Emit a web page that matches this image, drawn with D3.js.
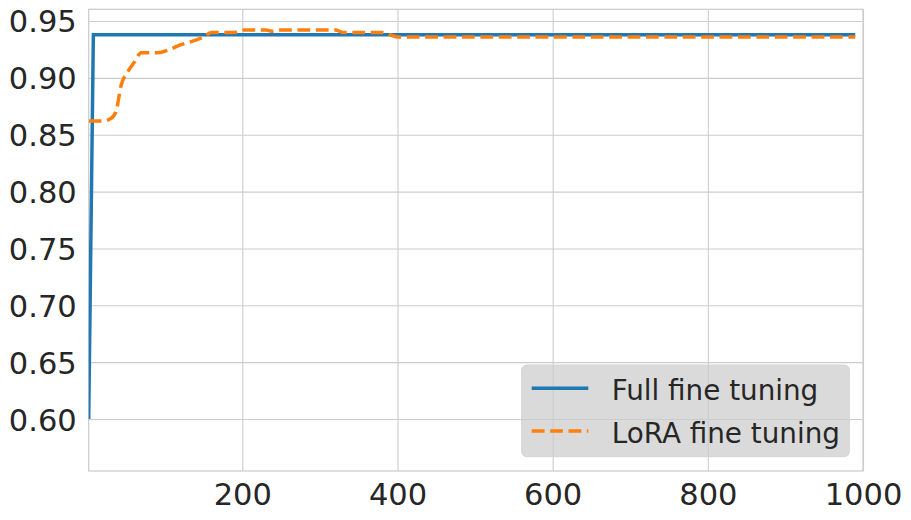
<!DOCTYPE html>
<html>
<head>
<meta charset="utf-8">
<script src="https://cdn.jsdelivr.net/npm/d3@7"></script>
<style>
  body { margin: 0; background: #fff; }
  text { font-family: "DejaVu Sans", sans-serif; fill: #262626; }
</style>
</head>
<body>
<div id="chart"></div>
<script>
// values
var fullSteps = [2, 8, 990];
var fullAcc = [0.600, 0.938, 0.938];

var loraSteps = [2, 10, 20, 30, 37, 44, 52, 60, 70, 90, 110, 120, 130, 150, 160, 190, 200, 230, 240, 250, 320, 330, 380, 400, 990];
var loraAcc = [0.862, 0.862, 0.862, 0.864, 0.870, 0.894, 0.905, 0.913, 0.922, 0.922, 0.926, 0.929, 0.931, 0.936, 0.940, 0.940, 0.942, 0.942, 0.941, 0.942, 0.942, 0.940, 0.940, 0.936, 0.936];

var xTicks = [200, 400, 600, 800, 1000];
var yTicks = [0.60, 0.65, 0.70, 0.75, 0.80, 0.85, 0.90, 0.95];

var seriesNames = ["Full fine tuning", "LoRA fine tuning"];
var seriesColors = ["#1f77b4", "#ff7f0e"];

var W = 911, H = 520;
var margin = {top: 9.3, right: 48, bottom: 49, left: 88.7},
	width = W - margin.left - margin.right,
	height = H - margin.top - margin.bottom;

var x = d3.scaleLinear().domain([2, 1000]).range([0, width]);
var y = d3.scaleLinear().domain([0.5543, 0.9603]).range([height, 0]);

var svg = d3.select("#chart").append("svg")
	.attr("width", W)
	.attr("height", H);

var g = svg.append("g")
	.attr("transform", "translate(" + margin.left + "," + margin.top + ")");

// grid via axes
var gx = g.append("g")
	.attr("transform", "translate(0," + height + ")")
	.call(d3.axisBottom(x).tickValues(xTicks).tickSize(-height).tickFormat(d3.format("d")).tickPadding(0));
var gy = g.append("g")
	.call(d3.axisLeft(y).tickValues(yTicks).tickSize(-width).tickFormat(d3.format(".2f")).tickPadding(0));

[gx, gy].forEach(function (a) {
	a.select(".domain").remove();
	a.selectAll("line").attr("stroke", "#cccccc").attr("stroke-width", 1.1);
	a.selectAll("text").style("font-size", "30.5px").attr("fill", "#262626");
});
gx.selectAll("text").attr("y", 34).attr("dy", 0);
gy.selectAll("text").attr("x", -12).attr("dy", "0.36em");

// frame
g.append("rect")
	.attr("width", width)
	.attr("height", height)
	.attr("fill", "none")
	.attr("stroke", "#cccccc")
	.attr("stroke-width", 1.25);

g.append("clipPath").attr("id", "clip")
	.append("rect").attr("width", width).attr("height", height);

var line = d3.line()
	.x(function (d) { return x(d[0]); })
	.y(function (d) { return y(d[1]); })
	.curve(d3.curveMonotoneX);

var plot = g.append("g").attr("clip-path", "url(#clip)");

plot.append("path")
	.datum(d3.zip(fullSteps, fullAcc))
	.attr("d", line.curve(d3.curveLinear))
	.attr("fill", "none")
	.attr("stroke", seriesColors[0])
	.attr("stroke-width", 3.5);

plot.append("path")
	.datum(d3.zip(loraSteps, loraAcc))
	.attr("d", line.curve(d3.curveMonotoneX))
	.attr("fill", "none")
	.attr("stroke", seriesColors[1])
	.attr("stroke-width", 3.5)
	.attr("stroke-dasharray", "12.8,5.6");

// legend
var leg = svg.append("g").attr("transform", "translate(521.7,365)");
leg.append("rect")
	.attr("width", 327.6)
	.attr("height", 91.7)
	.attr("rx", 5)
	.attr("fill", "#cccccc")
	.attr("fill-opacity", 0.72)
	.attr("stroke", "#d4d4d4")
	.attr("stroke-width", 1);

seriesNames.forEach(function (name, i) {
	var row = leg.append("g").attr("transform", "translate(0," + (23.3 + i * 42.7) + ")");
	row.append("line")
		.attr("x1", 10).attr("x2", 66.6)
		.attr("stroke", seriesColors[i])
		.attr("stroke-width", 3.5)
		.attr("stroke-dasharray", i === 1 ? "12.8,5.6" : null);
	row.append("text")
		.attr("x", 90)
		.attr("y", 11.5)
		.style("font-size", "27.8px")
		.text(name);
});
</script>
</body>
</html>
